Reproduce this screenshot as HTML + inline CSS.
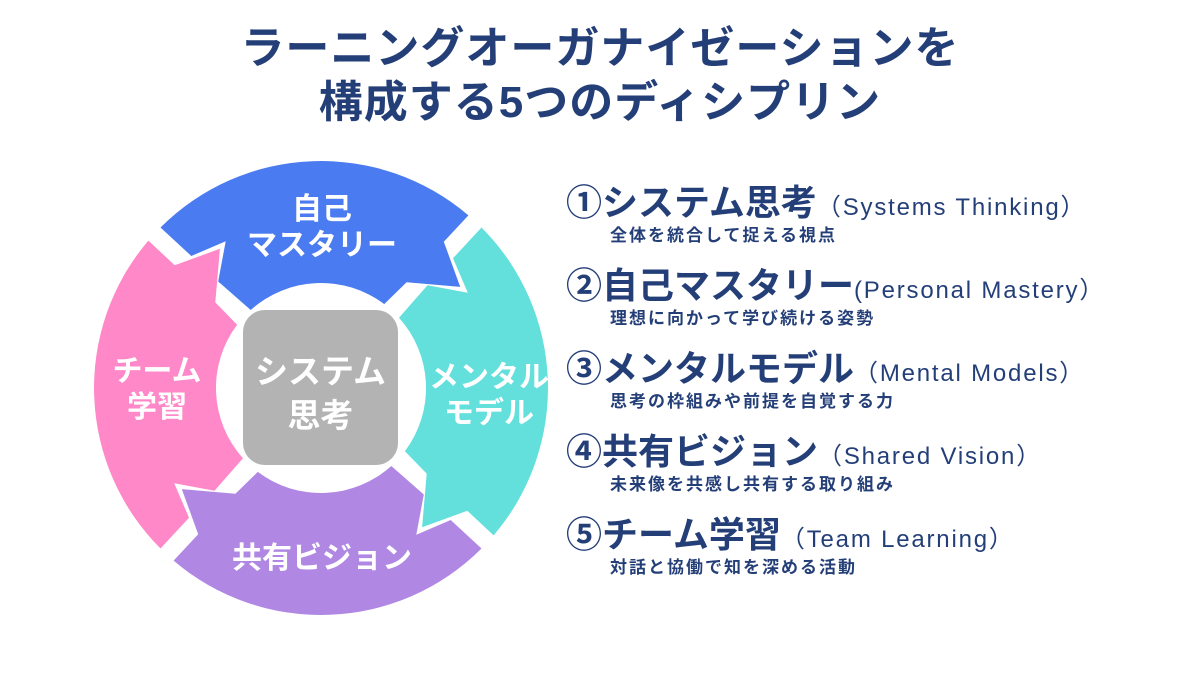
<!DOCTYPE html>
<html><head><meta charset="utf-8"><style>
body{margin:0;width:1200px;height:675px;background:#fff;overflow:hidden;position:relative;font-family:"Liberation Sans","Noto Sans CJK JP",sans-serif;}
.t{position:absolute;white-space:nowrap;}
.title{left:0;width:1200px;text-align:center;font-size:44px;font-weight:bold;color:#243f78;letter-spacing:1px;}
.main{font-size:36px;font-weight:bold;color:#243f78;left:566px;line-height:40px;}
.main span{font-size:24px;font-weight:normal;letter-spacing:1.8px;}
.sub{font-size:17px;font-weight:bold;color:#243f78;left:610px;letter-spacing:2px;line-height:22px;}
.lb{position:absolute;color:#fff;font-weight:bold;font-size:30px;text-align:center;line-height:36px;white-space:nowrap;}
</style></head><body>
<div class="t title" style="top:22px;line-height:54px">ラーニングオーガナイゼーションを</div>
<div class="t title" style="top:76px;line-height:54px">構成する5つのディシプリン</div>

<svg width="1200" height="675" style="position:absolute;left:0;top:0">
<defs>
<path id="seg" d="M160.5,227.5 A227,227 0 0 1 468.4,215.4 L443.8,241.7 L460.2,286.9 L406.6,282.3 L384.2,304.1 A105,105 0 0 0 250.7,310 L218.2,281.5 L225.7,241.2 L191.3,256 Z"/>
</defs>
<use href="#seg" fill="#4a7bf0"/>
<use href="#seg" fill="#63dfdc" transform="rotate(90 321 388)"/>
<use href="#seg" fill="#b088e4" transform="rotate(180 321 388)"/>
<use href="#seg" fill="#ff88c8" transform="rotate(270 321 388)"/>
<rect x="243" y="310" width="155" height="155" rx="22" fill="#b3b3b3"/>
</svg>

<div class="lb" style="left:222px;width:200px;top:192px">自己<br>マスタリー</div>
<div class="lb" style="left:409px;width:160px;top:360px">メンタル<br>モデル</div>
<div class="lb" style="left:87px;width:140px;top:354px">チーム<br>学習</div>
<div class="lb" style="left:222px;width:200px;top:541px">共有ビジョン</div>
<div class="lb" style="left:243px;width:155px;top:350px;font-size:33px;line-height:44px">システム<br>思考</div>

<div class="t main" style="top:183px">①システム思考<span>（Systems Thinking）</span></div>
<div class="t sub" style="top:225px">全体を統合して捉える視点</div>
<div class="t main" style="top:266px">②自己マスタリー<span>(Personal Mastery）</span></div>
<div class="t sub" style="top:308px">理想に向かって学び続ける姿勢</div>
<div class="t main" style="top:349px">③メンタルモデル<span>（Mental Models）</span></div>
<div class="t sub" style="top:391px">思考の枠組みや前提を自覚する力</div>
<div class="t main" style="top:432px">④共有ビジョン<span>（Shared Vision）</span></div>
<div class="t sub" style="top:474px">未来像を共感し共有する取り組み</div>
<div class="t main" style="top:515px">⑤チーム学習<span>（Team Learning）</span></div>
<div class="t sub" style="top:557px">対話と協働で知を深める活動</div>
</body></html>
